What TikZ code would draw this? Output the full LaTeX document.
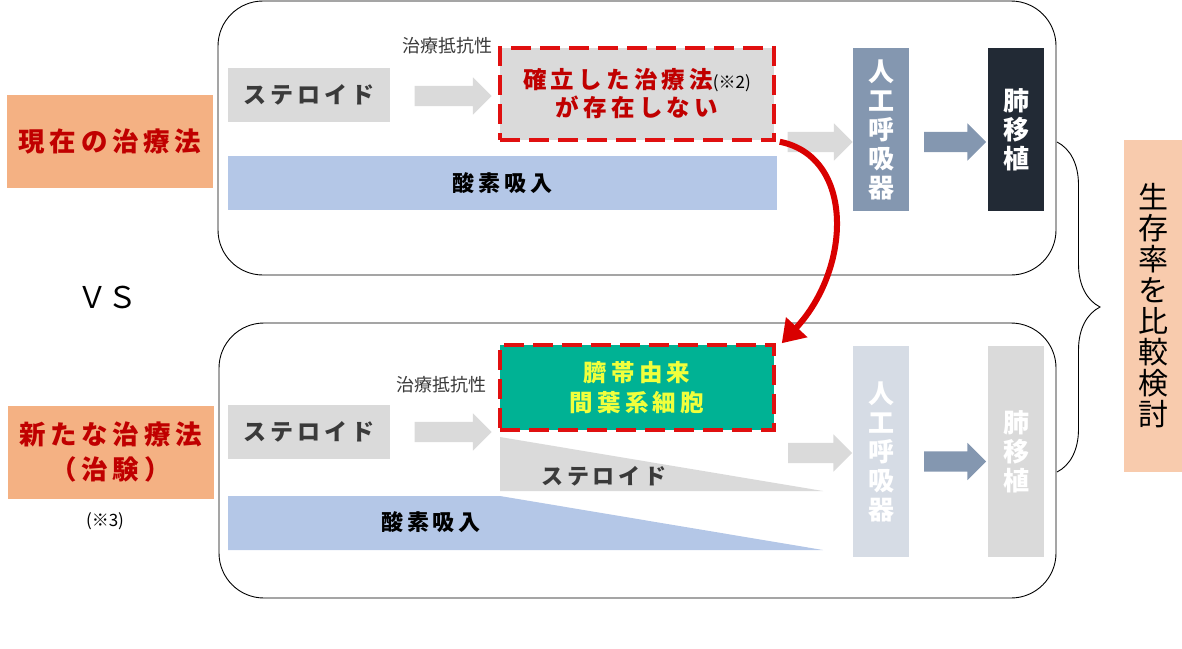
\documentclass[tikz,border=0pt]{standalone}
\usepackage{fontspec}
\newfontfamily\cjk{Noto Sans CJK JP}
\usetikzlibrary{shapes.arrows,decorations.pathreplacing,arrows.meta}
\definecolor{orangebox}{HTML}{F4B183}
\definecolor{paleorange}{HTML}{F8CBAD}
\definecolor{darkred}{HTML}{C00000}
\definecolor{dashred}{HTML}{E01010}
\definecolor{greyfill}{HTML}{DADADA}
\definecolor{greytext}{HTML}{3A3A3A}
\definecolor{oxyblue}{HTML}{B4C7E7}
\definecolor{ventblue}{HTML}{8497B0}
\definecolor{ventpale}{HTML}{D6DCE5}
\definecolor{lungnavy}{HTML}{222A35}
\definecolor{mscgreen}{HTML}{00B294}
\definecolor{mscyellow}{HTML}{F0FF3C}
\newcommand\jp[2]{\cjk\fontsize{#1}{#2}\selectfont}
\newcommand\jpb[2]{\cjk\bfseries\fontsize{#1}{#2}\selectfont\addfontfeature{LetterSpace=18}}
\tikzset{
  base/.style={inner sep=0pt, align=center},
  title box/.style={base, fill=orangebox, minimum width=206pt, minimum height=93pt,
    text=darkred, font=\jpb{26.5}{35}},
  steroid box/.style={base, fill=greyfill, text=greytext, minimum width=162pt,
    minimum height=54pt, font=\jpb{23}{26}},
  tall box/.style={base, minimum width=56pt, text=white, font=\jp{26}{29}\bfseries},
  blk/.style={single arrow, single arrow head extend=8.5pt, single arrow head indent=0pt,
    inner xsep=0pt, inner ysep=10pt, minimum height=#1},
  frame/.style={draw, line width=0.9pt, rounded corners=45pt},
  dashbox/.style={base, draw=dashred, line width=3.5pt, dash pattern=on 20pt off 9pt,
    minimum width=274pt},
  small/.style={base, font=\jp{17}{20}}
}
\begin{document}
\begin{tikzpicture}[x=1pt,y=-1pt,>=stealth]
\useasboundingbox (0,0) rectangle (1182,648);
% two frames
\draw[frame] (218,1) rectangle (1056,275);
\draw[frame] (219,323) rectangle (1056,598);

% left labels
\node[title box] (cur) at (110,141.5) {現在の治療法};
\node[base, font=\jp{30}{32}] (vs) at (107,297) {ＶＳ};
\node[title box] (new) at (110.5,452.5) {新たな治療法\\（治験）};
\node[small] (note3) at (105,521) {(※3)};

% current treatment
\node[steroid box] (steroidA) at (309,95) {ステロイド};
\node[blk=77pt, fill=greyfill] (arrA) at (448,96) {};
\node[small, text=greytext, font=\jp{18}{20}] (resA) at (447,46) {治療抵抗性};
\node[dashbox, fill=greyfill, minimum height=92pt, text=darkred, font=\jpb{23.5}{28}]
  (noway) at (637,94) {確立した治療法{\color{black}\jp{17}{18}\mdseries(※2)}\\が存在しない};
\node[base, fill=oxyblue, minimum width=549pt, minimum height=54pt, font=\jpb{22}{26}]
  (oxyA) at (502.5,183) {酸素吸入};
\node[blk=65pt, fill=greyfill] (arrA2) at (815,142) {};
\node[tall box, fill=ventblue, minimum height=163pt] (vent) at (881,129.5) {人\\工\\呼\\吸\\器};
\node[blk=62pt, fill=ventblue] (arrB) at (950,142) {};
\node[tall box, fill=lungnavy, minimum height=163pt] (lung) at (1016,129.5) {肺\\移\\植};

% new treatment
\node[steroid box] (steroidB) at (309,432) {ステロイド};
\node[blk=77pt, fill=greyfill] (arrC) at (448,432) {};
\node[small, text=greytext, font=\jp{18}{20}] (resB) at (441,385) {治療抵抗性};
\node[dashbox, fill=mscgreen, minimum height=85pt, text=mscyellow, font=\jpb{23.5}{30}]
  (msc) at (637,387.5) {臍帯由来\\間葉系細胞};
\fill[greyfill] (500,437) -- (823,491) -- (500,491) -- cycle;
\node[base, text=greytext, font=\jpb{22}{26}] (steroidC) at (604,476) {ステロイド};
\fill[oxyblue] (228,496) -- (500,496) -- (823,550) -- (228,550) -- cycle;
\node[base, font=\jpb{22}{26}] (oxyB) at (431,522) {酸素吸入};
\node[blk=64pt, fill=greyfill] (arrD) at (815,453) {};
\node[tall box, fill=ventpale, minimum height=211pt] (ventB) at (881,451.5) {人\\工\\呼\\吸\\器};
\node[blk=62pt, fill=ventblue] (arrE) at (950,461.5) {};
\node[tall box, fill=greyfill, minimum height=211pt] (lungB) at (1016,451.5) {肺\\移\\植};

% new option replaces the missing one
\draw[red!85!black, line width=6pt, -{Triangle[length=22pt,width=28pt]}]
  ([xshift=4pt]noway.south east) .. controls +(75,15) and +(70,-75) .. ([xshift=6pt]msc.north east);

% comparison
\coordinate (bt) at (1057,142);
\coordinate (bb) at (1057,472);
\draw[decorate, decoration={brace, amplitude=43pt}, line width=0.9pt] (bt) -- (bb);
\node[base, fill=paleorange, minimum width=58pt, minimum height=332pt, font=\jp{30}{31}]
  (survive) at (1153,306) {生\\存\\率\\を\\比\\較\\検\\討};
\end{tikzpicture}
\end{document}
